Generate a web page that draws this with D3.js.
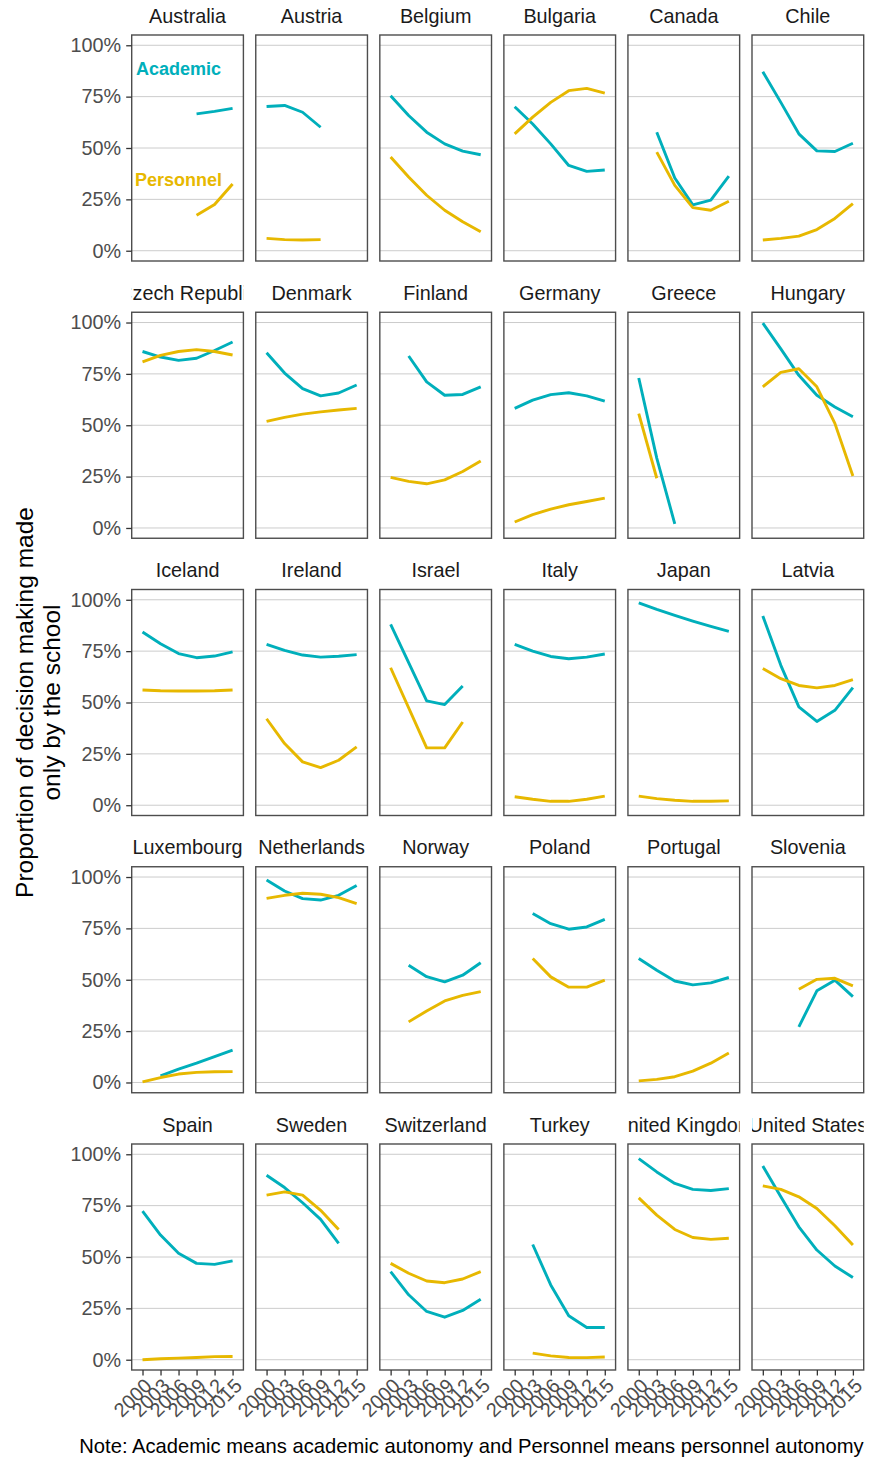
<!DOCTYPE html>
<html>
<head>
<meta charset="utf-8">
<script src="https://cdn.jsdelivr.net/npm/d3@7"></script>
<style>
  html, body { margin: 0; padding: 0; background: #ffffff; }
  svg { display: block; font-family: "Liberation Sans", Arial, Helvetica, sans-serif; }
</style>
</head>
<body>
<svg id="chart" width="869" height="1460"></svg>
<script>
// School autonomy over time by country, PISA waves
const years = [2000, 2003, 2006, 2009, 2012, 2015];

const countries = [
  "Australia", "Austria", "Belgium", "Bulgaria", "Canada", "Chile",
  "Czech Republic", "Denmark", "Finland", "Germany", "Greece", "Hungary",
  "Iceland", "Ireland", "Israel", "Italy", "Japan", "Latvia",
  "Luxembourg", "Netherlands", "Norway", "Poland", "Portugal", "Slovenia",
  "Spain", "Sweden", "Switzerland", "Turkey", "United Kingdom", "United States"
];

// Share (%) of decisions made only by the school: academic autonomy
const academic = [
  [null, null, null, 66.6, 67.8, 69.3],   // Australia
  [70.2, 70.7, 67.4, 60.1, null, null],   // Austria
  [75.4, 65.8, 57.7, 52.0, 48.5, 46.7],   // Belgium
  [70.1, 61.7, 52.0, 41.5, 38.6, 39.3],   // Bulgaria
  [null, 57.7, 35.4, 22.3, 24.6, 36.3],   // Canada
  [87.1, 72.2, 56.9, 48.6, 48.3, 52.3],   // Chile
  [85.9, 83.2, 81.6, 82.6, 86.4, 90.5],   // Czech Republic
  [85.3, 75.4, 67.8, 64.3, 65.7, 69.6],   // Denmark
  [null, 83.7, 71.1, 64.6, 65.0, 68.7],   // Finland
  [58.2, 62.2, 64.9, 65.8, 64.3, 61.7],   // Germany
  [73.0, 34.0, 2.0, null, null, null],    // Greece
  [99.7, 87.2, 74.3, 64.6, 58.9, 54.1],   // Hungary
  [84.3, 78.6, 73.8, 71.8, 72.6, 74.6],   // Iceland
  [78.3, 75.4, 73.1, 72.1, 72.5, 73.3],   // Ireland
  [88.0, null, 50.8, 49.0, 58.0, null],   // Israel
  [78.3, 75.0, 72.4, 71.3, 72.1, 73.6],   // Italy
  [98.5, 95.3, 92.4, 89.6, 87.0, 84.6],   // Japan
  [92.1, 68.1, 47.9, 40.8, 46.2, 57.2],   // Latvia
  [null, 3.2, 6.5, 9.4, 12.6, 15.7],      // Luxembourg
  [98.5, 93.2, 89.5, 88.8, 91.1, 95.9],   // Netherlands
  [null, 57.1, 51.5, 49.0, 52.2, 58.3],   // Norway
  [null, 82.2, 77.3, 74.6, 75.7, 79.4],   // Poland
  [60.3, 54.6, 49.4, 47.5, 48.5, 51.1],   // Portugal
  [null, null, 27.1, 44.6, 49.8, 41.8],   // Slovenia
  [72.3, 60.7, 51.8, 46.9, 46.4, 48.1],   // Spain
  [89.8, 83.8, 76.4, 68.3, 56.6, null],   // Sweden
  [42.9, 31.6, 23.5, 20.7, 24.0, 29.4],   // Switzerland
  [null, 56.1, 36.4, 21.4, 15.7, 15.7],   // Turkey
  [97.9, 91.4, 85.8, 82.9, 82.4, 83.3],   // United Kingdom
  [94.3, 79.3, 64.7, 53.4, 45.6, 40.0]    // United States
];

// Share (%) of decisions made only by the school: personnel autonomy
const personnel = [
  [null, null, null, 17.3, 22.5, 32.5],   // Australia
  [6.0, 5.4, 5.2, 5.4, null, null],       // Austria
  [45.6, 35.9, 27.0, 19.7, 14.1, 9.2],    // Belgium
  [56.9, 65.0, 72.2, 77.9, 79.0, 76.7],   // Bulgaria
  [null, 48.0, 31.8, 21.0, 19.7, 24.1],   // Canada
  [5.2, 6.0, 7.1, 10.3, 15.7, 22.9],      // Chile
  [80.8, 84.0, 85.9, 86.8, 85.9, 84.2],   // Czech Republic
  [51.9, 53.8, 55.4, 56.5, 57.4, 58.2],   // Denmark
  [24.6, 22.7, 21.5, 23.4, 27.5, 32.6],   // Finland
  [2.9, 6.5, 9.2, 11.3, 12.9, 14.5],      // Germany
  [55.7, 24.2, null, null, null, null],   // Greece
  [68.7, 75.7, 77.5, 68.7, 50.9, 25.3],   // Hungary
  [56.1, 55.7, 55.6, 55.6, 55.7, 56.1],   // Iceland
  [42.1, 30.0, 21.1, 18.3, 21.9, 28.4],   // Ireland
  [66.9, null, 27.9, 27.9, 40.5, null],   // Israel
  [4.1, 2.9, 1.9, 1.9, 2.9, 4.4],         // Italy
  [4.4, 3.2, 2.4, 1.9, 1.9, 2.1],         // Japan
  [66.5, 61.6, 58.3, 57.1, 58.3, 61.1],   // Latvia
  [0.3, 2.4, 4.1, 4.9, 5.2, 5.3],         // Luxembourg
  [89.6, 91.1, 92.1, 91.6, 90.0, 87.0],   // Netherlands
  [null, 29.5, 34.8, 39.7, 42.4, 44.2],   // Norway
  [null, 60.3, 51.4, 46.4, 46.4, 49.8],   // Poland
  [0.8, 1.5, 2.8, 5.5, 9.4, 14.3],        // Portugal
  [null, null, 45.4, 50.2, 50.7, 47.0],   // Slovenia
  [0.0, 0.5, 0.8, 1.1, 1.5, 1.6],         // Spain
  [80.1, 81.7, 80.1, 72.7, 63.4, null],   // Sweden
  [46.9, 42.1, 38.3, 37.5, 39.3, 42.9],   // Switzerland
  [null, 3.2, 1.9, 1.1, 1.0, 1.3],        // Turkey
  [78.8, 70.4, 63.4, 59.5, 58.6, 59.1],   // United Kingdom
  [84.6, 82.9, 79.3, 73.6, 65.2, 55.8]    // United States
];

const yTicks = [0, 25, 50, 75, 100];

// In-panel labels naming the two series (first panel)
const seriesNames = ["Academic", "Personnel"];
const seriesLabelYear = [2006, 2006];
const seriesLabelValue = [88.6, 34.8];

const noteText = "Note: Academic means academic autonomy and Personnel means personnel autonomy";
const yTitleLines = ["Proportion of decision making made", "only by the school"];

// ---- layout ----
const colors = { Academic: "#00AFBB", Personnel: "#E7B800" };
const nCols = 6;
const panelW = 111.7, panelH = 226;
const colStep = 124.06, rowStep = 277.25;
const gridLeft = 131.7, gridTop = 35;
const axisFont = 19.8, titleFont = 24.5, noteFont = 20.2;
const tickLen = 5.5, tickPad = 5;

const svg = d3.select("#chart");
const defs = svg.append("defs");

const y = d3.scaleLinear().domain([-5, 105]).range([panelH, 0]);
const x = d3.scalePoint().domain(years).range([0, panelW]).padding(0.6);

const line = d3.line()
  .defined(d => d.v != null)
  .x(d => x(d.year))
  .y(d => y(d.v))
  .curve(d3.curveLinear);

const nRows = Math.ceil(countries.length / nCols);

countries.forEach((country, i) => {
  const col = i % nCols, row = Math.floor(i / nCols);
  const left = gridLeft + col * colStep;
  const top = gridTop + row * rowStep;
  const g = svg.append("g").attr("transform", `translate(${left},${top})`);

  // horizontal gridlines
  g.append("g").selectAll("line").data(yTicks).join("line")
    .attr("x1", 0).attr("x2", panelW)
    .attr("y1", d => y(d)).attr("y2", d => y(d))
    .attr("stroke", "#cccccc").attr("stroke-width", 1);

  // series lines (missing waves are skipped, line continues)
  const series = [
    { name: "Academic", values: academic[i] },
    { name: "Personnel", values: personnel[i] }
  ];
  series.forEach(s => {
    const pts = years.map((yr, k) => ({ year: yr, v: s.values[k] })).filter(d => d.v != null);
    g.append("path")
      .datum(pts)
      .attr("d", line)
      .attr("fill", "none")
      .attr("stroke", colors[s.name])
      .attr("stroke-width", 2.9)
      .attr("stroke-linejoin", "round")
      .attr("stroke-linecap", "butt");
  });

  // series name labels in the first panel
  if (i === 0) {
    seriesNames.forEach((nm, k) => {
      g.append("text")
        .attr("x", x(seriesLabelYear[k]))
        .attr("y", y(seriesLabelValue[k]))
        .attr("dy", "0.35em")
        .attr("text-anchor", "middle")
        .attr("font-weight", "bold")
        .attr("font-size", 18)
        .attr("fill", colors[nm])
        .text(nm);
    });
  }

  // panel border
  g.append("rect")
    .attr("x", 0).attr("y", 0).attr("width", panelW).attr("height", panelH)
    .attr("fill", "none").attr("stroke", "#4d4d4d").attr("stroke-width", 1.4);

  // facet strip title, clipped to the panel width
  const clipId = "strip-clip-" + i;
  defs.append("clipPath").attr("id", clipId)
    .append("rect").attr("x", 0).attr("y", -40).attr("width", panelW).attr("height", 40);
  g.append("text")
    .attr("clip-path", `url(#${clipId})`)
    .attr("x", panelW / 2).attr("y", -12.3)
    .attr("text-anchor", "middle")
    .attr("font-size", axisFont)
    .attr("fill", "#1a1a1a")
    .text(country);

  // y axis on the first column
  if (col === 0) {
    const ya = g.append("g").call(
      d3.axisLeft(y).tickValues(yTicks).tickFormat(d => d + "%")
        .tickSize(tickLen).tickPadding(tickPad)
    );
    ya.select(".domain").remove();
    ya.selectAll(".tick line").attr("stroke", "#333333").attr("stroke-width", 1.3);
    ya.selectAll(".tick text").attr("font-size", axisFont).attr("fill", "#4d4d4d")
      .attr("font-family", "Liberation Sans, Arial, sans-serif");
  }

  // x axis on the bottom row
  if (row === nRows - 1) {
    const xa = g.append("g").attr("transform", `translate(0,${panelH})`).call(
      d3.axisBottom(x).tickSize(tickLen).tickPadding(tickPad)
    );
    xa.select(".domain").remove();
    xa.selectAll(".tick line").attr("stroke", "#333333").attr("stroke-width", 1.3);
    xa.selectAll(".tick text")
      .attr("font-size", axisFont).attr("fill", "#4d4d4d")
      .attr("font-family", "Liberation Sans, Arial, sans-serif")
      .attr("x", 0).attr("y", 0)
      .attr("dy", "0.72em")
      .attr("text-anchor", "end")
      .attr("transform", `translate(0,${tickLen + 1.5}) rotate(-45)`);
  }
});

// y axis title (two lines)
const yTitle = svg.append("g")
  .attr("transform", `translate(0,${gridTop + ((nRows - 1) * rowStep + panelH) / 2})`);
yTitleLines.forEach((t, k) => {
  yTitle.append("text")
    .attr("transform", `translate(${33 + k * 27},0) rotate(-90)`)
    .attr("text-anchor", "middle")
    .attr("font-size", titleFont)
    .attr("fill", "#000000")
    .text(t);
});

// caption
svg.append("text")
  .attr("x", gridLeft + (nCols - 1) * colStep + panelW)
  .attr("y", 1453)
  .attr("text-anchor", "end")
  .attr("font-size", noteFont)
  .attr("fill", "#000000")
  .text(noteText);
</script>
</body>
</html>
